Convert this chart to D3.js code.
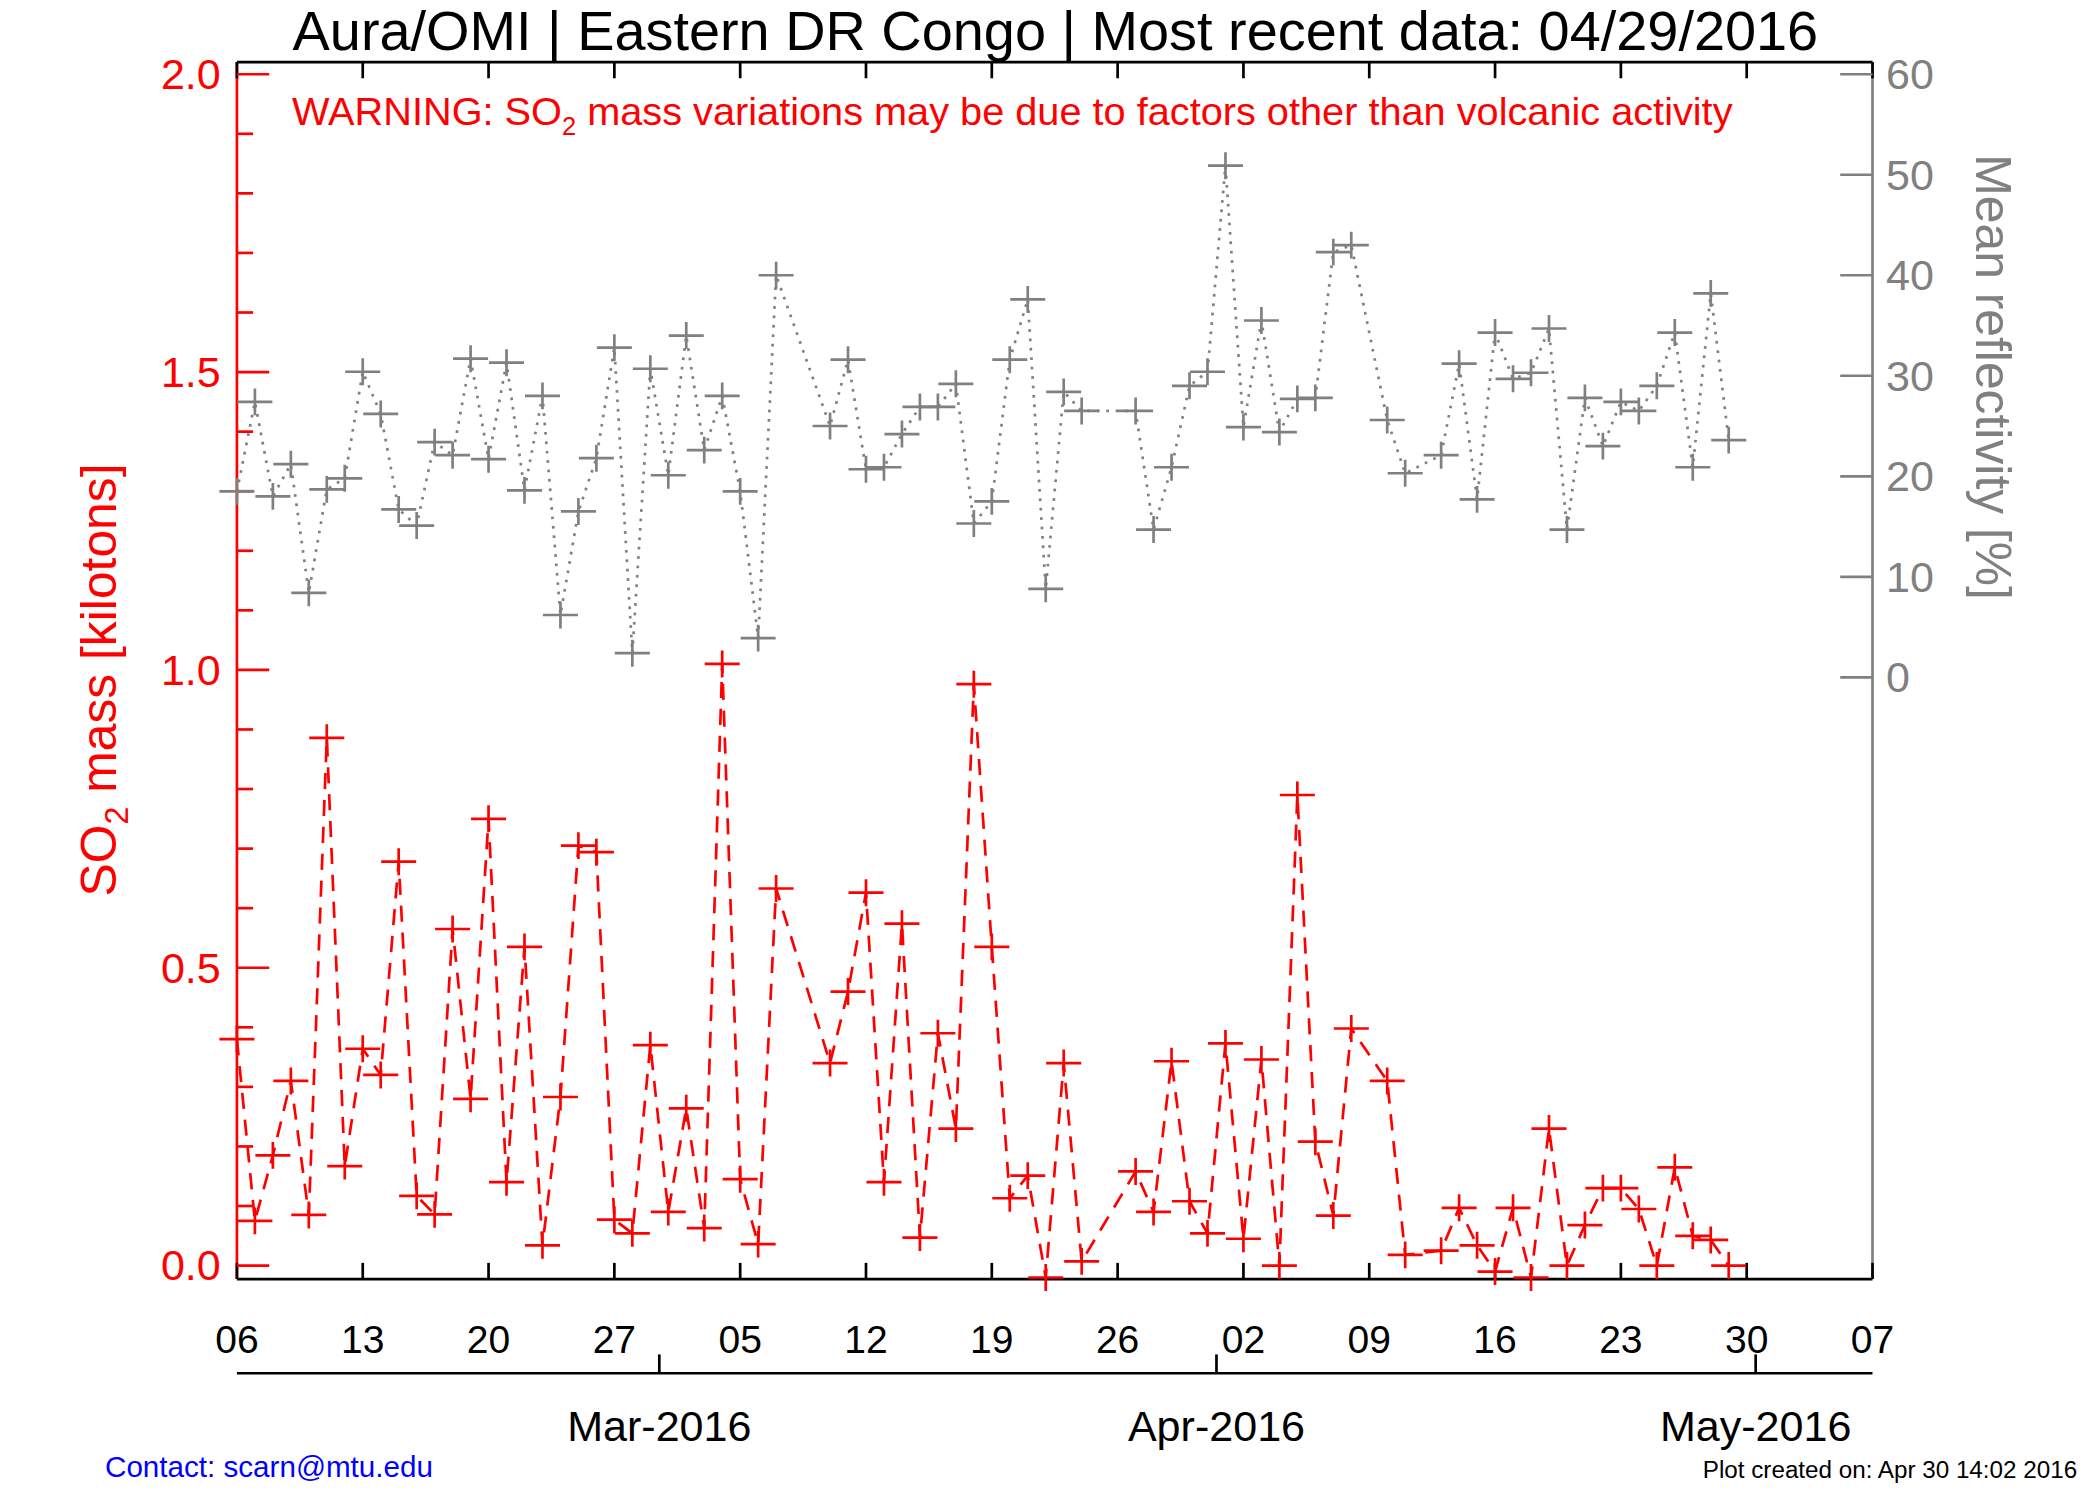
<!DOCTYPE html>
<html><head><meta charset="utf-8">
<script src="https://cdn.jsdelivr.net/npm/d3@7"></script>
<style>body{margin:0;background:#fff}svg{display:block}text{font-family:"Liberation Sans",Arial,sans-serif}</style>
</head><body>
<svg id="chart" width="2100" height="1500" viewBox="0 0 1560 1114"></svg>
<script>
// day offsets from 2016-02-06
var so2Days = [0,1,2,3,4,5,6,7,8,9,10,11,12,13,14,15,16,17,18,19,20,21,22,23,24,25,26,27,28,29,30,33,34,35,36,37,38,39,40,41,42,43,44,45,46,47,50,51,52,53,54,55,56,57,58,59,60,61,62,64,65,67,68,69,70,71,72,73,74,75,76,77,78,79,80,81,82,83];
var so2Mass = [0.38,0.075,0.185,0.31,0.085,0.886,0.167,0.364,0.32,0.678,0.117,0.086,0.565,0.28,0.75,0.14,0.535,0.034,0.283,0.705,0.694,0.077,0.054,0.37,0.09,0.264,0.063,1.01,0.145,0.036,0.633,0.34,0.46,0.626,0.14,0.574,0.047,0.39,0.23,0.976,0.535,0.113,0.151,-0.02,0.34,0.007,0.158,0.09,0.343,0.108,0.054,0.373,0.045,0.346,0.0,0.79,0.208,0.084,0.398,0.31,0.018,0.025,0.097,0.034,-0.01,0.097,-0.02,0.23,0.0,0.068,0.13,0.13,0.095,0.0,0.165,0.05,0.043,0.0];
var reflectivity = [18.5,27.4,18,21.2,8.4,18.7,19.8,30.4,26.2,16.7,15.1,23.4,22.1,31.7,21.7,31.3,18.6,28,6.2,16.5,21.8,32.8,2.4,30.7,20.1,34,22.6,28,18.5,3.9,40,25,31.6,20.7,20.9,24.2,26.9,26.9,29.2,15.3,17.5,31.6,37.6,8.8,28.4,26.5,26.5,14.7,20.9,29,30.4,50.9,24.9,35.5,24.4,27.7,27.8,42.3,43,25.6,20.3,22.1,31.2,17.7,34.3,29.7,30.3,34.7,14.7,27.8,23,27.4,26.5,29,34.3,20.9,38.2,23.6];
var weekLabels = ["06","13","20","27","05","12","19","26","02","09","16","23","30","07"];
var monthLabels = ["Mar-2016","Apr-2016","May-2016"];
var leftTicks = [0.0,0.5,1.0,1.5,2.0];
var rightTicks = [0,10,20,30,40,50,60];

var svg = d3.select("#chart");
var L = 176, R = 1391, T = 46, B = 950;
var start = new Date(2016,1,6);
var x = d3.scaleTime().domain([start, new Date(2016,4,7)]).range([L, R]);
var yL = d3.scaleLinear().domain([0,2]).range([940,55]);
var yR = d3.scaleLinear().domain([0,60]).range([503,55]);
function dayDate(d){ return d3.timeHour.offset(start, d*24); }

// frame
svg.append("line").attr("x1",L).attr("x2",R).attr("y1",T).attr("y2",T).attr("stroke","#000").attr("stroke-width",2);
svg.append("line").attr("x1",L).attr("x2",R).attr("y1",B).attr("y2",B).attr("stroke","#000").attr("stroke-width",2);
svg.append("line").attr("x1",L).attr("x2",L).attr("y1",T).attr("y2",B).attr("stroke","red").attr("stroke-width",2);
svg.append("line").attr("x1",R).attr("x2",R).attr("y1",T).attr("y2",B).attr("stroke","#808080").attr("stroke-width",2);

// weekly ticks
var weeks = d3.range(14).map(function(i){ return dayDate(i*7); });
weeks.forEach(function(d,i){
  var xx = x(d);
  svg.append("line").attr("x1",xx).attr("x2",xx).attr("y1",B).attr("y2",B-12).attr("stroke","#000").attr("stroke-width",2);
  svg.append("line").attr("x1",xx).attr("x2",xx).attr("y1",T).attr("y2",T+12).attr("stroke","#000").attr("stroke-width",2);
  svg.append("text").attr("x",xx).attr("y",1005).attr("text-anchor","middle").attr("font-size",29).text(weekLabels[i]);
});
// month axis (ticks sit half a day before the 1st)
svg.append("line").attr("x1",L).attr("x2",R).attr("y1",1020).attr("y2",1020).attr("stroke","#000").attr("stroke-width",2);
[23.5, 54.5, 84.5].forEach(function(d,i){
  var xx = x(dayDate(d));
  svg.append("line").attr("x1",xx).attr("x2",xx).attr("y1",1020).attr("y2",1006).attr("stroke","#000").attr("stroke-width",2);
  svg.append("text").attr("x",xx).attr("y",1070).attr("text-anchor","middle").attr("font-size",32).text(monthLabels[i]);
});

// left axis ticks
d3.range(0,21).forEach(function(i){
  var v = i/10, major = i % 5 === 0;
  svg.append("line").attr("x1",L).attr("x2",L+(major?24:12)).attr("y1",yL(v)).attr("y2",yL(v)).attr("stroke","red").attr("stroke-width",2);
});
leftTicks.forEach(function(v){
  svg.append("text").attr("x",L-12).attr("y",yL(v)+11).attr("text-anchor","end").attr("font-size",32).attr("fill","red").text(v.toFixed(1));
});
// right axis ticks
rightTicks.forEach(function(v){
  svg.append("line").attr("x1",R).attr("x2",R-24).attr("y1",yR(v)).attr("y2",yR(v)).attr("stroke","#808080").attr("stroke-width",2);
  svg.append("text").attr("x",R+10).attr("y",yR(v)+11).attr("font-size",32).attr("fill","#808080").text(v);
});

// axis titles
var lt = svg.append("text").attr("transform","translate(86,505) rotate(-90)").attr("text-anchor","middle").attr("font-size",37).attr("fill","red");
lt.append("tspan").text("SO");
lt.append("tspan").attr("font-size",24).attr("dy",9).text("2");
lt.append("tspan").attr("dy",-9).text(" mass [kilotons]");
svg.append("text").attr("transform","translate(1468,280) rotate(90)").attr("text-anchor","middle").attr("font-size",37).attr("fill","#808080").text("Mean reflectivity [%]");

// title and notes
svg.append("text").attr("x",784).attr("y",37).attr("text-anchor","middle").attr("font-size",41.5).text("Aura/OMI | Eastern DR Congo | Most recent data: 04/29/2016");
var w = svg.append("text").attr("x",217).attr("y",93).attr("font-size",29.5).attr("fill","red");
w.append("tspan").text("WARNING: SO");
w.append("tspan").attr("font-size",19).attr("dy",7).text("2");
w.append("tspan").attr("dy",-7).text(" mass variations may be due to factors other than volcanic activity");
svg.append("text").attr("x",78).attr("y",1097).attr("font-size",22).attr("fill","blue").text("Contact: scarn@mtu.edu");
svg.append("text").attr("x",1543).attr("y",1098).attr("text-anchor","end").attr("font-size",18).text("Plot created on: Apr 30 14:02 2016");

// series
var plot = svg.append("g");
function series(vals, ys, color, dash){
  var pts = so2Days.map(function(d,i){ return [x(dayDate(d)), ys(vals[i])]; });
  plot.append("path").attr("d", d3.line()(pts)).attr("fill","none").attr("stroke",color).attr("stroke-width",2).attr("stroke-dasharray",dash);
  plot.selectAll(null).data(pts).enter().append("path")
    .attr("d", function(p){ return "M"+(p[0]-13)+","+p[1]+"h26M"+p[0]+","+(p[1]-10)+"v20"; })
    .attr("stroke",color).attr("stroke-width",2);
}
series(reflectivity, yR, "#808080", "2,5");
series(so2Mass, yL, "red", "12,8");
</script>
</body></html>
